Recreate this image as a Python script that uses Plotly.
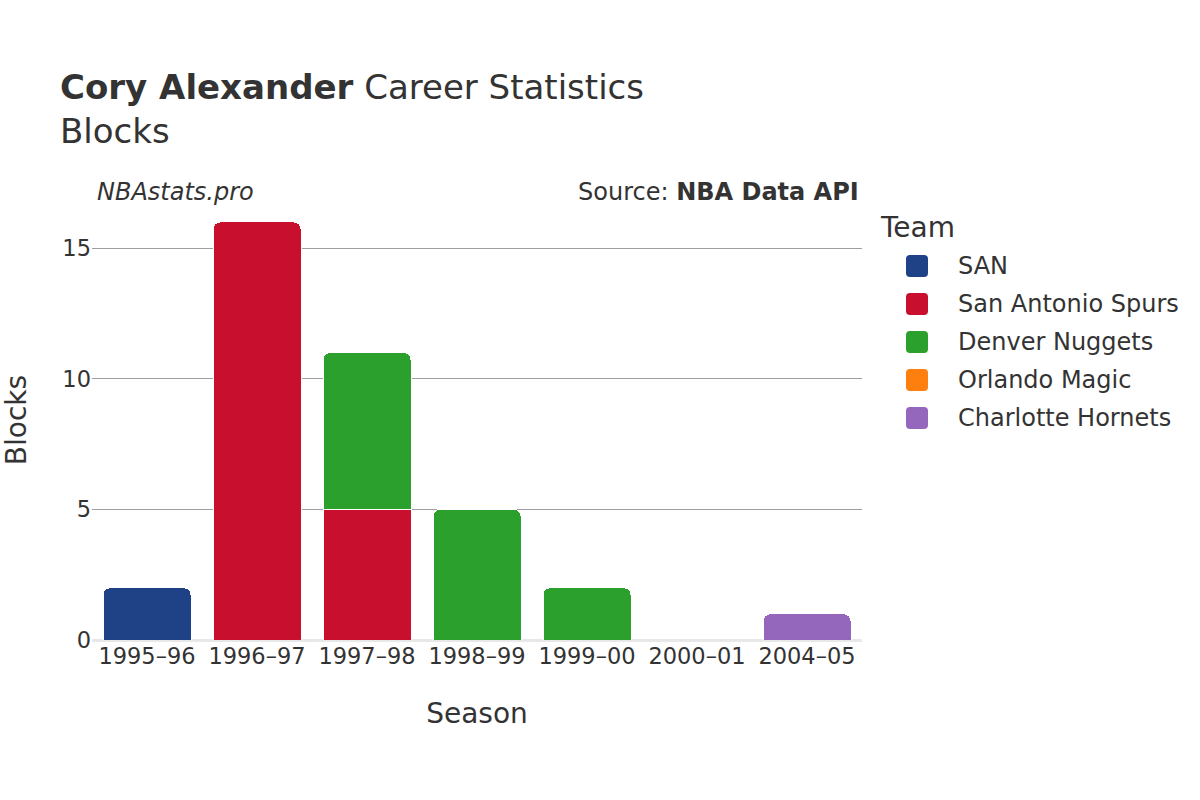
import plotly.graph_objects as go

seasons = ["1995–96", "1996–97", "1997–98", "1998–99", "1999–00", "2000–01", "2004–05"]
teams = ["SAN", "San Antonio Spurs", "Denver Nuggets", "Orlando Magic", "Charlotte Hornets"]
colors = ["#1f4287", "#c8102e", "#2ca02c", "#ff7f0e", "#9467bd"]

san_blocks = [2, None, None, None, None, None, None]
spurs_blocks = [None, 16, 5, None, None, None, None]
nuggets_blocks = [None, None, 6, 5, 2, None, None]
magic_blocks = [None, None, None, None, None, 0, None]
hornets_blocks = [None, None, None, None, None, None, 1]

series = [san_blocks, spurs_blocks, nuggets_blocks, magic_blocks, hornets_blocks]

font = "DejaVu Sans"
W, H = 1200, 800
L, R, T, B = 92, 338, 200, 160
pw, ph = W - L - R, H - T - B


def px_x(px):
    return (px - L) / pw


def px_y(py):
    return (H - B - py) / ph


fig = go.Figure()
for team, color, vals in zip(teams, colors, series):
    xs = [s for s, v in zip(seasons, vals) if v is not None]
    ys = [v for v in vals if v is not None]
    fig.add_trace(go.Bar(
        x=xs, y=ys, name=team, showlegend=False,
        marker=dict(color=color, line=dict(color="white", width=1), cornerradius=7),
    ))

annotations = [
    dict(text="<i>NBAstats.pro</i>", xref="paper", yref="paper", x=px_x(95), y=px_y(192),
         xanchor="left", yanchor="middle", showarrow=False, font=dict(size=24)),
    dict(text="Source: <b>NBA Data API</b>", xref="paper", yref="paper", x=px_x(861), y=px_y(192),
         xanchor="right", yanchor="middle", showarrow=False, font=dict(size=24)),
    dict(text="Team", xref="paper", yref="paper", x=px_x(878), y=px_y(227),
         xanchor="left", yanchor="middle", showarrow=False, font=dict(size=28)),
]
shapes = []
rr = "M-7,-11 L7,-11 Q11,-11 11,-7 L11,7 Q11,11 7,11 L-7,11 Q-11,11 -11,7 L-11,-7 Q-11,-11 -7,-11 Z"
for i, (team, color) in enumerate(zip(teams, colors)):
    yc = 266 + 38 * i
    annotations.append(dict(text=team, xref="paper", yref="paper", x=px_x(956), y=px_y(yc),
                            xanchor="left", yanchor="middle", showarrow=False, font=dict(size=24)))
    shapes.append(dict(type="path", xref="paper", yref="paper", xsizemode="pixel", ysizemode="pixel",
                       xanchor=px_x(917), yanchor=px_y(yc), path=rr,
                       fillcolor=color, line=dict(width=0)))

fig.update_layout(
    width=W, height=H,
    barmode="stack", bargap=0.2,
    plot_bgcolor="white", paper_bgcolor="white",
    font=dict(family=font, size=20, color="#333333"),
    margin=dict(l=L, r=R, t=T, b=B, autoexpand=False),
    showlegend=False,
    title=dict(
        text="<b>Cory Alexander</b> Career Statistics<br>Blocks",
        x=60 / W, xanchor="left", y=0.876, yanchor="top",
        font=dict(size=34, family=font, color="#333333"),
    ),
    xaxis=dict(
        title=dict(text="Season", font=dict(size=28), standoff=35),
        categoryorder="array", categoryarray=seasons,
        tickfont=dict(size=22.5), showgrid=False, ticks="", automargin=False,
    ),
    yaxis=dict(
        title=dict(text="Blocks", font=dict(size=28), standoff=40),
        tickfont=dict(size=22.5), gridcolor="#9e9e9e", gridwidth=1,
        zeroline=True, zerolinecolor="#e8e8e8", zerolinewidth=3,
        tickvals=[0, 5, 10, 15], range=[0, 16.84], automargin=False,
    ),
    annotations=annotations,
    shapes=shapes,
)

fig.write_html("out.html", config={"displayModeBar": False},
               post_script="document.body.style.margin='0';")
